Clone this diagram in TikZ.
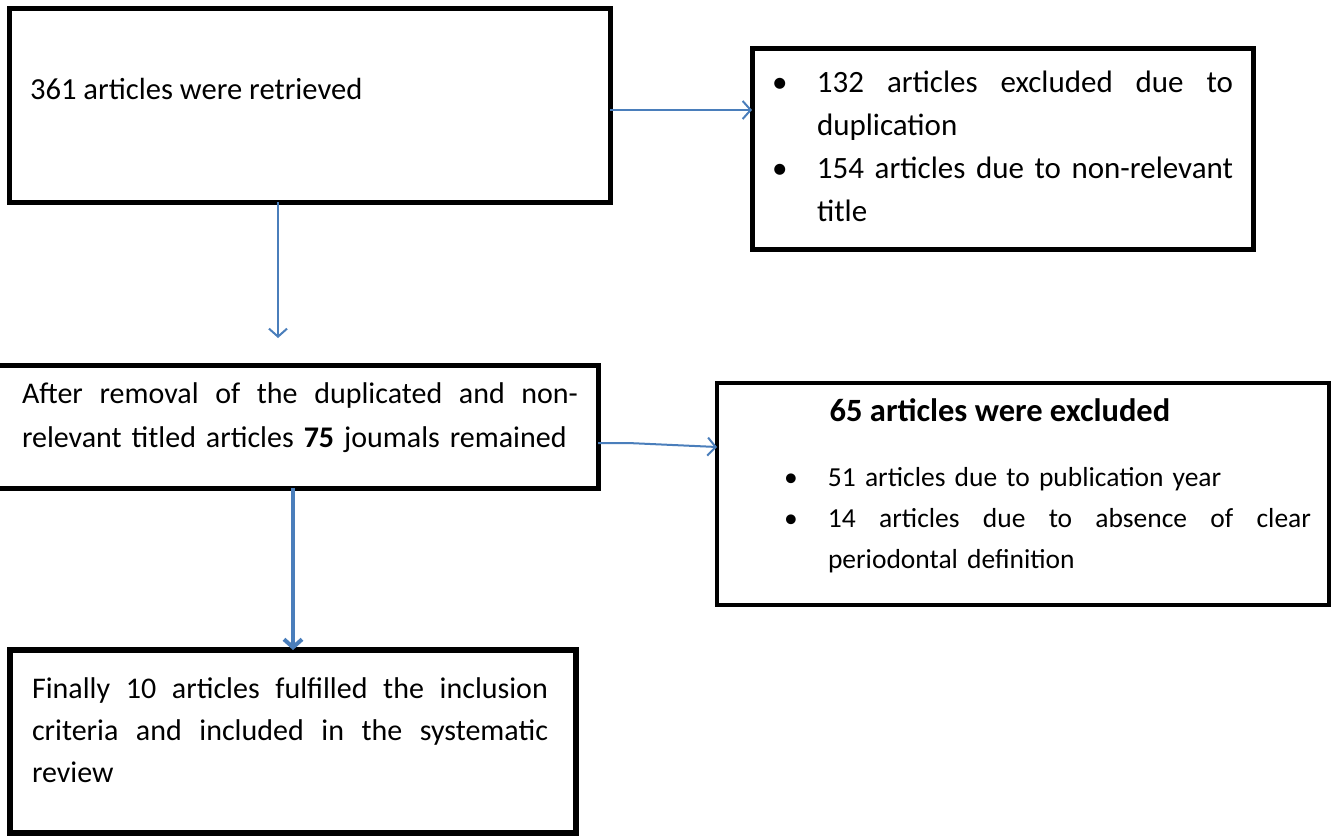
\documentclass[tikz,border=0pt]{standalone}
\usepackage{fontspec}
\setmainfont{Carlito}
\usetikzlibrary{arrows.meta,calc}
\definecolor{arrblue}{RGB}{74,126,187}
\newcommand{\jline}[2]{\leavevmode\hbox to #1{\spaceskip=0.226em plus 1fil\relax#2}}
\begin{document}
\begin{tikzpicture}[x=1pt,y=-1pt,
  box/.style={draw=black, line width=5pt, rectangle, anchor=north west, outer sep=0pt, inner sep=0pt},
  txt/.style={inner sep=0pt, outer sep=0pt, anchor=base west, align=left},
  arr/.style={draw=arrblue, line width=2pt, -{Straight Barb[length=8pt,width=18pt]}},
  arrthick/.style={arr, line width=4pt}]
\useasboundingbox[fill=white] (0,0) rectangle (1332,837);
% boxes
\node[box, minimum width=601pt, minimum height=193pt] (b1) at (9,9) {};
\node[box, minimum width=501pt, minimum height=200pt] (b2) at (752,49) {};
\node[box, minimum width=603pt, minimum height=123pt] (b3) at (-5,365) {};
\node[box, minimum width=612pt, minimum height=222pt, line width=4pt] (b4) at (717,383) {};
\node[box, minimum width=566pt, minimum height=183pt, line width=6pt] (b5) at (10,650) {};
% texts
\node[txt, font=\fontsize{30.6}{43}\selectfont] (t1) at (30,100) {361 articles were retrieved};
\node[txt, text width=462pt, font=\fontsize{31}{43}\selectfont] (t2) at (772,93)
  {\makebox[45pt][l]{•}\jline{416pt}{132 articles excluded due to}\\
   \hspace*{45pt}duplication\\
   \makebox[45pt][l]{•}\jline{416pt}{154 articles due to non-relevant}\\
   \hspace*{45pt}title};
\node[txt, text width=560pt, font=\fontsize{30}{44}\selectfont] (t3) at (22,403)
  {\jline{556pt}{After removal of the duplicated and non-}\\
   relevant titled articles \textbf{75} joumals remained};
\node[inner sep=0pt, anchor=base, font=\bfseries\fontsize{32.5}{40}\selectfont] (t4a) at (1000,421) {65 articles were excluded};
\node[txt, text width=530pt, font=\fontsize{27.5}{41}\selectfont] (t4b) at (784,486)
  {\makebox[44pt][l]{•}51 articles due to publication year\\
   \makebox[44pt][l]{•}\jline{483pt}{14 articles due to absence of clear}\\
   \hspace*{44pt}periodontal definition};
\node[txt, text width=520pt, font=\fontsize{30}{42}\selectfont] (t5) at (32,698)
  {\jline{516pt}{Finally 10 articles fulfilled the inclusion}\\
   \jline{516pt}{criteria and included in the systematic}\\
   review};
% connectors
\coordinate (a2) at (278,338);
\draw[arr] ($(b1.north east)+(0,101)$) -- ($(b2.north west)+(0,61)$);
\draw[arr] (b1.south -| a2) -- (a2);
\draw[arr] ($(b3.north east)+(0,78)$) -- ++(30,0) -- ($(b4.north west)+(0,64)$);
\draw[arrthick] ($(b3.south west)+(298,0)$) -- ($(b5.north west)+(283,0)$);
\end{tikzpicture}
\end{document}
